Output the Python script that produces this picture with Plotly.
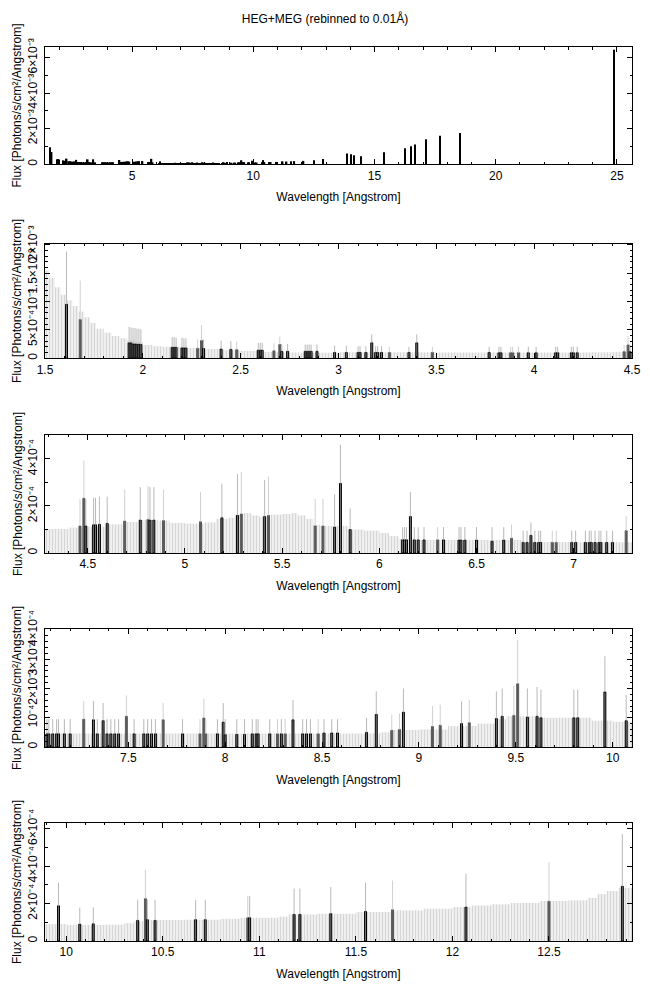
import plotly.graph_objects as go

# ---------------- data ----------------
# HEG-like histogram bins (black outlined), wavelength [A], flux, upper error end
heg_wl = [1.61, 1.93, 1.94, 1.95, 1.96, 1.97, 1.98, 1.99, 2.15, 2.16, 2.17, 2.20, 2.21, 2.22,
          2.31, 2.40, 2.45, 2.59, 2.60, 2.61, 2.71, 2.74, 2.83, 2.84, 2.85, 2.86, 2.89,
          2.98, 3.04, 3.10, 3.11, 3.14, 3.17, 3.19, 3.20, 3.22, 3.36, 3.40, 3.77, 3.82, 3.83,
          3.97, 4.01, 4.11, 4.12, 4.19, 4.20, 4.22,
          4.49, 4.53, 4.54, 4.56, 4.60, 4.77, 4.82, 4.84, 5.19, 5.27, 5.41, 5.77, 5.80, 5.85,
          6.12, 6.13, 6.14, 6.16, 6.18, 6.20, 6.23, 6.33, 6.41, 6.42, 6.44, 6.50, 6.58, 6.64,
          6.74, 6.76, 6.78, 6.80, 6.82, 6.83, 6.99, 7.01, 7.06, 7.08, 7.09, 7.11, 7.13, 7.14,
          7.17, 7.20,
          7.32, 7.34, 7.37, 7.39, 7.41, 7.43, 7.45, 7.53, 7.58, 7.60, 7.62, 7.64, 7.78, 7.96,
          7.99, 8.00, 8.06, 8.10, 8.14, 8.16, 8.17, 8.23, 8.29, 8.35, 8.40, 8.42, 8.44,
          8.51, 8.55, 8.58, 8.73, 8.78, 8.92, 9.22, 9.40, 9.43, 9.56, 9.61, 9.63, 9.80, 9.82,
          9.96, 10.07,
          10.14, 10.37, 10.42, 10.46, 10.67, 10.72, 10.95, 11.18, 11.21, 11.37, 11.55, 12.07, 12.88]
heg_flux = [9.5e-4, 2.7e-4, 2.7e-4, 2.5e-4, 2.5e-4, 2.45e-4, 2.45e-4, 2.4e-4, 1.9e-4, 1.9e-4, 1.9e-4, 1.8e-4, 1.8e-4, 1.8e-4,
            1.7e-4, 1.6e-4, 1.55e-4, 1.4e-4, 1.4e-4, 1.4e-4, 1.2e-4, 1.2e-4, 1.2e-4, 1.2e-4, 1.2e-4, 1.2e-4, 1.2e-4,
            1.0e-4, 1.0e-4, 1.0e-4, 1.0e-4, 1.0e-4, 2.7e-4, 1.0e-4, 1.0e-4, 1.0e-4, 1.0e-4, 2.7e-4, 1.0e-4, 0.95e-4, 0.95e-4,
            0.95e-4, 0.95e-4, 0.95e-4, 0.95e-4, 0.95e-4, 0.95e-4, 0.95e-4,
            1.15e-4, 1.2e-4, 1.2e-4, 1.22e-4, 1.26e-4, 1.4e-4, 1.4e-4, 1.4e-4, 1.5e-4, 1.6e-4, 1.55e-4, 1.1e-4, 2.96e-4, 1.0e-4,
            0.56e-4, 0.56e-4, 0.56e-4, 1.55e-4, 0.56e-4, 0.56e-4, 0.56e-4, 0.56e-4, 0.55e-4, 0.55e-4, 0.55e-4, 0.55e-4, 0.5e-4, 0.55e-4,
            0.45e-4, 0.45e-4, 0.75e-4, 0.45e-4, 0.45e-4, 0.45e-4, 0.45e-4, 0.45e-4, 0.45e-4, 0.45e-4, 0.45e-4, 0.45e-4, 0.45e-4, 0.45e-4,
            0.45e-4, 0.45e-4,
            0.93e-4, 0.45e-4, 0.9e-4, 0.45e-4, 0.45e-4, 0.45e-4, 0.45e-4, 0.45e-4, 0.45e-4, 0.45e-4, 0.45e-4, 0.45e-4, 0.45e-4, 0.45e-4,
            0.85e-4, 0.42e-4, 0.43e-4, 0.43e-4, 0.45e-4, 0.45e-4, 0.45e-4, 0.45e-4, 0.45e-4, 0.93e-4, 0.45e-4, 0.45e-4, 0.45e-4,
            0.48e-4, 0.48e-4, 0.48e-4, 0.5e-4, 1.11e-4, 1.19e-4, 0.8e-4, 0.97e-4, 1.05e-4, 1.02e-4, 1.05e-4, 1.0e-4, 1.0e-4, 1.0e-4,
            1.88e-4, 0.9e-4,
            0.92e-4, 1.1e-4, 1.14e-4, 1.1e-4, 1.14e-4, 1.14e-4, 1.24e-4, 1.42e-4, 1.42e-4, 1.46e-4, 1.58e-4, 1.81e-4, 2.92e-4]
heg_up = [1.88e-3, 5.5e-4, 5.4e-4, 5.3e-4, 5.3e-4, 5.2e-4, 5.2e-4, 5.1e-4, 3.7e-4, 3.7e-4, 3.6e-4, 3.6e-4, 3.5e-4, 3.5e-4,
          3.3e-4, 3.1e-4, 3.0e-4, 2.7e-4, 2.7e-4, 2.7e-4, 2.5e-4, 2.5e-4, 2.4e-4, 2.4e-4, 2.4e-4, 2.4e-4, 2.4e-4,
          2.2e-4, 2.2e-4, 2.1e-4, 2.1e-4, 2.1e-4, 4.2e-4, 2.1e-4, 2.1e-4, 2.1e-4, 2.0e-4, 4.2e-4, 2.0e-4, 2.0e-4, 2.0e-4,
          2.0e-4, 2.0e-4, 2.0e-4, 2.0e-4, 2.0e-4, 2.0e-4, 2.0e-4,
          2.3e-4, 2.35e-4, 2.35e-4, 2.4e-4, 2.4e-4, 2.8e-4, 2.8e-4, 2.8e-4, 2.95e-4, 3.35e-4, 3.1e-4, 2.5e-4, 4.6e-4, 1.9e-4,
          1.1e-4, 1.1e-4, 1.1e-4, 2.6e-4, 1.1e-4, 1.1e-4, 1.1e-4, 1.1e-4, 1.1e-4, 1.1e-4, 1.1e-4, 1.1e-4, 1.1e-4, 1.1e-4,
          0.95e-4, 0.95e-4, 1.3e-4, 0.95e-4, 0.95e-4, 0.95e-4, 0.95e-4, 0.95e-4, 0.95e-4, 0.95e-4, 0.95e-4, 0.95e-4, 0.95e-4, 0.95e-4,
          0.95e-4, 0.95e-4,
          1.57e-4, 0.95e-4, 1.5e-4, 0.95e-4, 0.95e-4, 0.95e-4, 0.95e-4, 0.95e-4, 0.95e-4, 0.95e-4, 0.95e-4, 0.95e-4, 0.95e-4, 0.95e-4,
          1.5e-4, 0.95e-4, 0.95e-4, 0.95e-4, 0.95e-4, 0.95e-4, 0.95e-4, 0.95e-4, 0.95e-4, 1.6e-4, 0.95e-4, 0.95e-4, 0.95e-4,
          0.95e-4, 0.95e-4, 0.95e-4, 1.0e-4, 1.9e-4, 2.0e-4, 1.56e-4, 1.9e-4, 2.0e-4, 2.0e-4, 2.05e-4, 1.96e-4, 1.96e-4, 1.96e-4,
          3.1e-4, 1.78e-4,
          1.8e-4, 2.2e-4, 2.2e-4, 2.2e-4, 2.2e-4, 2.2e-4, 2.4e-4, 2.8e-4, 2.8e-4, 2.88e-4, 3.1e-4, 3.6e-4, 5.7e-4]

# MEG-like histogram bins (dark grey filled)
meg_wl = [1.68, 2.28, 2.30, 2.48, 2.67, 2.70, 3.26, 3.48, 3.88, 3.89, 3.92,
          4.46, 4.48, 4.69, 4.81, 4.89, 5.08, 5.29, 5.43, 5.67, 5.71, 6.30, 6.68, 6.89, 6.91,
          7.27, 7.49, 7.68, 7.87, 7.89, 7.90, 8.27, 8.31, 8.48, 8.86, 8.90, 9.07, 9.11, 9.26,
          9.49, 9.51, 10.41, 10.94, 11.69, 12.50]
meg_flux = [6.8e-4, 1.7e-4, 3.1e-4, 1.5e-4, 1.3e-4, 2.4e-4, 1.0e-4, 1.0e-4, 0.95e-4, 0.95e-4, 0.95e-4,
            1.15e-4, 2.33e-4, 1.36e-4, 1.43e-4, 1.38e-4, 1.33e-4, 1.66e-4, 1.6e-4, 1.15e-4, 1.15e-4, 0.56e-4, 0.63e-4, 0.45e-4, 0.45e-4,
            0.95e-4, 1.05e-4, 0.93e-4, 0.45e-4, 0.99e-4, 0.45e-4, 0.45e-4, 0.45e-4, 0.45e-4, 0.57e-4, 0.6e-4, 0.7e-4, 0.74e-4, 0.83e-4,
            1.08e-4, 2.16e-4, 2.26e-4, 1.24e-4, 1.67e-4, 2.12e-4]
meg_up = [1.37e-3, 3.3e-4, 5.8e-4, 2.9e-4, 2.6e-4, 3.8e-4, 2.0e-4, 2.0e-4, 2.0e-4, 2.0e-4, 2.0e-4,
          2.3e-4, 3.93e-4, 2.7e-4, 2.85e-4, 2.7e-4, 2.6e-4, 3.45e-4, 3.25e-4, 2.3e-4, 2.3e-4, 1.1e-4, 1.2e-4, 0.95e-4, 0.95e-4,
          1.57e-4, 1.76e-4, 1.5e-4, 0.95e-4, 1.65e-4, 0.95e-4, 0.95e-4, 0.95e-4, 0.95e-4, 1.1e-4, 1.15e-4, 1.4e-4, 1.45e-4, 1.6e-4,
          2.1e-4, 3.66e-4, 3.8e-4, 2.4e-4, 3.23e-4, 4.2e-4]

# long-wavelength bins (only visible in the overview panel)
long_wl = [13.87, 14.03, 14.15, 14.44, 15.39, 16.26, 16.50, 16.67, 17.12, 17.70, 18.53, 24.88]
long_flux = [6.0e-4, 5.5e-4, 5.0e-4, 4.5e-4, 6.7e-4, 9.0e-4, 1.0e-3, 1.1e-3, 1.4e-3, 1.6e-3, 1.75e-3, 6.45e-3]

# upper error of empty bins: step edges (env_wl) and level starting at each edge (env_up)
env_wl = [1.50, 1.52, 1.55, 1.58, 1.61, 1.64, 1.67, 1.70, 1.73, 1.76, 1.80, 1.84, 1.88, 1.92, 1.96,
          2.00, 2.05, 2.10, 2.20, 2.30, 2.40, 2.50, 2.60, 2.70, 2.80, 3.00, 3.50, 4.00, 4.28, 4.40,
          4.50, 4.60, 4.70, 4.76, 4.86, 4.92, 5.00, 5.10, 5.16, 5.22, 5.26, 5.30, 5.34, 5.38, 5.44,
          5.50, 5.55, 5.58, 5.62, 5.66, 5.70, 5.84, 5.92, 6.00, 6.05, 6.10, 6.15, 6.50, 6.74, 7.00,
          7.30, 8.00, 8.80, 8.86, 9.00, 9.15, 9.30, 9.40, 9.45, 9.60, 9.85, 9.89, 10.00, 10.20, 10.30,
          10.35, 10.40, 10.60, 10.80, 10.90, 11.10, 11.15, 11.30, 11.50, 11.70, 11.85, 12.00, 12.10,
          12.20, 12.30, 12.45, 12.60, 12.70, 12.75, 12.80, 12.86, 12.95]
env_up = [1.55e-3, 1.42e-3, 1.25e-3, 1.12e-3, 1.02e-3, 0.92e-3, 0.82e-3, 0.72e-3, 0.62e-3, 0.52e-3, 0.45e-3,
          0.39e-3, 0.35e-3, 0.31e-3, 0.28e-3, 0.23e-3, 0.21e-3, 0.20e-3, 0.18e-3, 0.16e-3, 0.14e-3, 0.125e-3,
          0.11e-3, 0.10e-3, 0.095e-3, 1.05e-4, 1.0e-4, 1.0e-4, 1.02e-4, 1.08e-4,
          1.12e-4, 1.22e-4, 1.32e-4, 1.4e-4, 1.38e-4, 1.28e-4, 1.25e-4, 1.3e-4, 1.45e-4, 1.5e-4, 1.62e-4,
          1.7e-4, 1.6e-4, 1.55e-4, 1.63e-4, 1.66e-4, 1.7e-4, 1.6e-4, 1.45e-4, 1.2e-4, 1.15e-4, 1.0e-4,
          0.95e-4, 0.85e-4, 0.72e-4, 0.6e-4, 0.55e-4, 0.55e-4, 0.47e-4, 0.46e-4,
          0.46e-4, 0.46e-4, 0.5e-4, 0.58e-4, 0.6e-4, 0.72e-4, 0.8e-4, 0.95e-4, 1.05e-4, 1.0e-4, 1.0e-4,
          0.9e-4, 0.86e-4, 0.87e-4, 0.95e-4, 1.05e-4, 1.12e-4, 1.14e-4, 1.18e-4, 1.24e-4, 1.3e-4, 1.42e-4,
          1.45e-4, 1.55e-4, 1.64e-4, 1.72e-4, 1.81e-4, 1.9e-4, 1.96e-4, 2.03e-4, 2.13e-4, 2.17e-4, 2.3e-4,
          2.5e-4, 2.67e-4, 2.84e-4, 2.9e-4]

x_ranges = [[1.41, 25.62], [1.5, 4.5], [4.28, 7.30], [7.07, 10.10], [9.89, 12.93]]
y_ranges = [[0, 6.6e-3], [0, 2.02e-3], [0, 5.02e-4], [0, 4.03e-4], [0, 6.3e-4]]
y_tickvals = [[0, 2e-3, 4e-3, 6e-3], [0, 5e-4, 1e-3, 1.5e-3, 2e-3], [0, 2e-4, 4e-4],
              [0, 1e-4, 2e-4, 3e-4, 4e-4], [0, 2e-4, 4e-4, 6e-4]]
y_ticktext = [["0", "2×10⁻³", "4×10⁻³", "6×10⁻³"],
              ["0", "5×10⁻⁴", "10⁻³", "1.5×10⁻³", "2×10⁻³"],
              ["0", "2×10⁻⁴", "4×10⁻⁴"],
              ["0", "10⁻⁴", "2×10⁻⁴", "3×10⁻⁴", "4×10⁻⁴"],
              ["0", "2×10⁻⁴", "4×10⁻⁴", "6×10⁻⁴"]]
y_minor = [1e-3, 1e-4, 1e-4, 2e-5, 1e-4]

# ---------------- figure ----------------
FONT = "Liberation Sans, Arial, Helvetica, sans-serif"
fig = go.Figure()

domains = [[0.869, 1.0], [0.652, 0.780], [0.434, 0.566], [0.217, 0.349], [0.0, 0.132]]

# envelope steps as bars (so that they sit below the histogram bars)
env_mid = [(a + b) / 2 for a, b in zip(env_wl[:-1], env_wl[1:])]
env_w = [b - a for a, b in zip(env_wl[:-1], env_wl[1:])]
env_h = env_up[:-1]

# overview panel
all_wl = heg_wl + meg_wl + long_wl
all_flux = heg_flux + meg_flux + long_flux
fig.add_trace(go.Bar(x=all_wl, y=all_flux, width=0.07, marker=dict(color="black", line=dict(width=0)),
                     xaxis="x", yaxis="y", showlegend=False, hoverinfo="skip"))

for i in range(1, 5):
    xa = "x%d" % (i + 1)
    ya = "y%d" % (i + 1)
    fig.add_trace(go.Bar(x=env_mid, y=env_h, width=env_w,
                         marker=dict(color="#efefef", line=dict(width=0),
                                     pattern=dict(shape="|", fgcolor="#b8b8b8", bgcolor="#efefef",
                                                  size=3, solidity=0.3)),
                         xaxis=xa, yaxis=ya, showlegend=False, hoverinfo="skip"))
    fig.add_trace(go.Bar(x=meg_wl, y=meg_flux, width=0.01,
                         marker=dict(color="#5a5a5a", line=dict(width=1, color="#5a5a5a")),
                         error_y=dict(type="data", symmetric=False,
                                      array=[u - f for u, f in zip(meg_up, meg_flux)],
                                      arrayminus=[0] * len(meg_flux),
                                      color="#d0d0d0", thickness=1, width=0),
                         xaxis=xa, yaxis=ya, showlegend=False, hoverinfo="skip"))
    fig.add_trace(go.Bar(x=heg_wl, y=heg_flux, width=0.01,
                         marker=dict(color="#7a7a7a", line=dict(width=1, color="black")),
                         error_y=dict(type="data", symmetric=False,
                                      array=[u - f for u, f in zip(heg_up, heg_flux)],
                                      arrayminus=[0] * len(heg_flux),
                                      color="#b8b8b8", thickness=1, width=0),
                         xaxis=xa, yaxis=ya, showlegend=False, hoverinfo="skip"))

layout = dict(
    width=650, height=991,
    paper_bgcolor="white", plot_bgcolor="white",
    margin=dict(l=45, r=18, t=47, b=50),
    barmode="overlay",
    font=dict(family=FONT, size=12, color="black"),
    title=dict(text="HEG+MEG (rebinned to 0.01Å)", x=0.5, xanchor="center", y=0.9815, yanchor="middle",
               font=dict(family=FONT, size=12, color="black")),
)

for i in range(5):
    sx = "" if i == 0 else str(i + 1)
    if i == 0:
        xdt, xmin = 5, 1
    else:
        xdt, xmin = 0.5, 0.1
    layout["xaxis" + sx] = dict(
        domain=[0, 1], anchor="y" + sx, range=x_ranges[i], automargin=False,
        showline=True, linecolor="black", linewidth=1, mirror="ticks",
        ticks="inside", ticklen=5, tickcolor="black", tick0=0, dtick=xdt,
        minor=dict(ticks="inside", ticklen=2.5, dtick=xmin, tick0=0, tickcolor="black"),
        showgrid=False, zeroline=False,
        tickfont=dict(family=FONT, size=12),
        title=dict(text="Wavelength [Angstrom]", font=dict(family=FONT, size=12), standoff=11),
    )
    layout["yaxis" + sx] = dict(
        domain=domains[i], anchor="x" + sx, range=y_ranges[i], automargin=False,
        showline=True, linecolor="black", linewidth=1, mirror="ticks",
        ticks="inside", ticklen=5, tickcolor="black",
        tickmode="array", tickvals=y_tickvals[i], ticktext=y_ticktext[i], tickangle=-90,
        ticklabelstandoff=2,
        minor=dict(ticks="inside", ticklen=2.5, dtick=y_minor[i], tick0=0, tickcolor="black"),
        showgrid=False, zeroline=False,
        tickfont=dict(family=FONT, size=12),
        title=dict(text="Flux [Photons/s/cm²/Angstrom]", font=dict(family=FONT, size=12), standoff=1),
    )

fig.update_layout(**layout)
fig.write_html("out.html", config={"displayModeBar": False},
               post_script="document.body.style.margin='0';document.body.style.padding='0';")
